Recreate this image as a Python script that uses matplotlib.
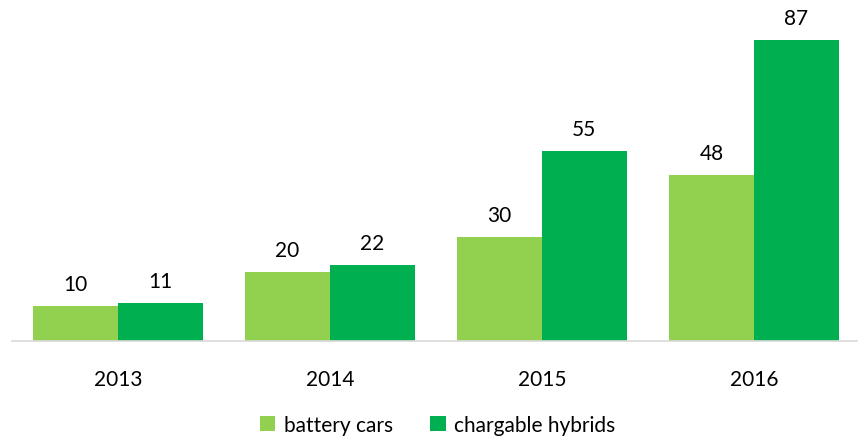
import matplotlib.pyplot as plt
import numpy as np

plt.rcParams['font.family'] = ['Lato', 'DejaVu Sans']

years = ['2013', '2014', '2015', '2016']
battery_cars = [10, 20, 30, 48]
chargable_hybrids = [11, 22, 55, 87]

fig = plt.figure(figsize=(8.58, 4.39), dpi=100)
ax = fig.add_axes([12 / 858, 97 / 439, 848 / 858, 342 / 439])

x = np.arange(len(years))
w = 0.4
b1 = ax.bar(x - w / 2, battery_cars, w, color='#92D050', label='battery cars')
b2 = ax.bar(x + w / 2, chargable_hybrids, w, color='#00B050', label='chargable hybrids')

for bars in (b1, b2):
    for r in bars:
        ax.text(r.get_x() + r.get_width() / 2, r.get_height() + 3.5, str(int(r.get_height())),
                ha='center', va='bottom', fontsize=15, color='#000000')

ax.set_xlim(-0.5, 3.5)
ax.set_ylim(0, 98.8)
ax.set_xticks(x)
ax.set_xticklabels(years, fontsize=15)
ax.tick_params(axis='x', length=0, pad=20)
ax.set_yticks([])
for s in ['top', 'right', 'left']:
    ax.spines[s].set_visible(False)
ax.spines['bottom'].set_color('#d9d9d9')
ax.spines['bottom'].set_linewidth(1.2)

fig.legend(loc='center', bbox_to_anchor=(0.51, 1 - 426 / 439), ncol=2, frameon=False,
           fontsize=15, handlelength=0.75, handleheight=0.75, handletextpad=0.4,
           columnspacing=1.8)

fig.savefig('out.png', dpi=100)
